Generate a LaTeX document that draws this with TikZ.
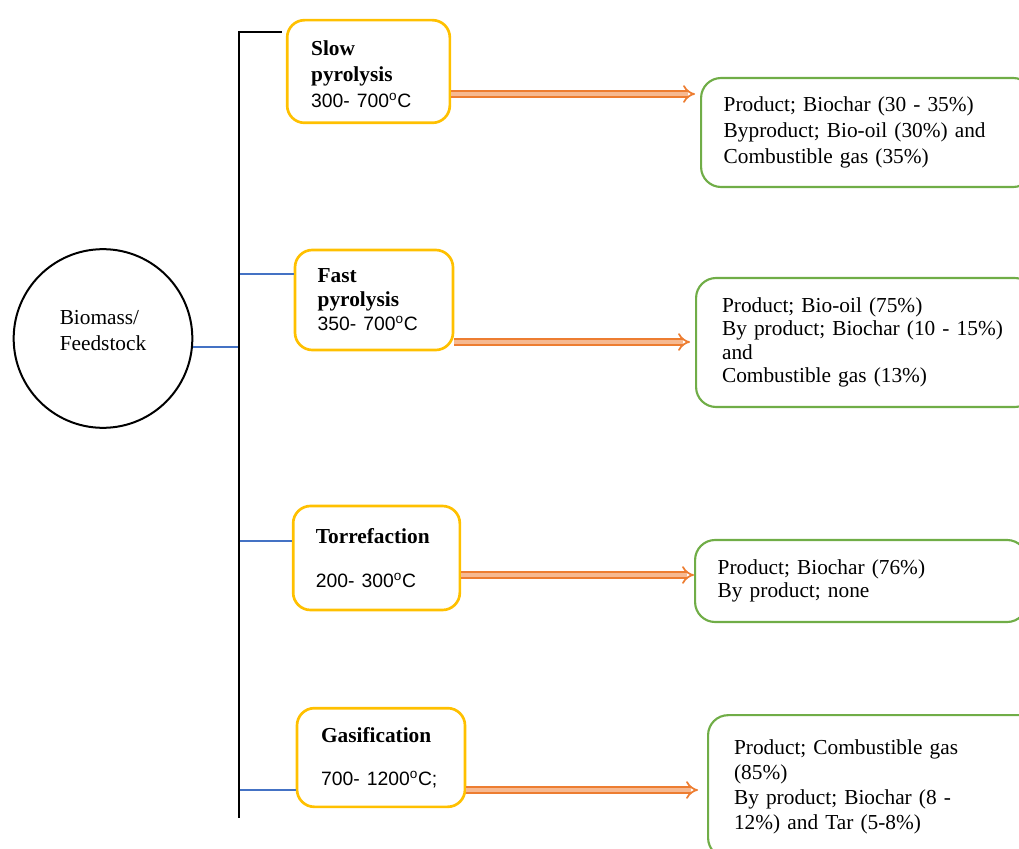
\documentclass[tikz,border=0pt]{standalone}
\usepackage{fontspec}
\setmainfont{Liberation Serif}
\newfontfamily\tempfont{Liberation Sans}
\usetikzlibrary{arrows.meta, positioning, calc}
\definecolor{stageYellow}{RGB}{255,192,0}
\definecolor{resultGreen}{RGB}{112,173,71}
\definecolor{flowOrange}{RGB}{237,125,49}
\definecolor{flowFill}{RGB}{246,185,145}
\definecolor{branchBlue}{RGB}{68,114,196}
\newcommand{\degC}{\textsuperscript{o}C}
\newcommand{\templine}[1]{{\tempfont\fontsize{14.5}{19.5}\selectfont #1}}

\begin{document}
\begin{tikzpicture}[x=0.75pt, y=-0.75pt,
    stage/.style={draw=stageYellow, line width=2pt, rounded corners=13pt, align=left, inner ysep=0pt, font=\fontsize{16}{19.5}\selectfont},
    result/.style={draw=resultGreen, line width=1.6pt, rounded corners=15pt, align=left, anchor=west, text width=215pt, inner ysep=0pt, font=\fontsize{16}{19.5}\selectfont},
    flow/.style={draw=flowOrange, line width=1.3pt, double=flowFill, double distance=3.2pt, -{Implies}},
    branch/.style={draw=branchBlue, line width=0.8pt},
    spine/.style={draw=black, line width=2pt}]
    \useasboundingbox (0,0) rectangle (1019,848);
    \node[circle, draw, line width=1.5pt, minimum size=134pt,
      label={[align=left, font=\fontsize{16}{19.5}\selectfont, yshift=5.6pt]center:Biomass/\\Feedstock}] (biomass) at (103,338.5) {};
    \node[stage, text width=86pt, text height=15pt, inner xsep=18pt, minimum height=77pt] (slow) at (368.5,71.5) {\textbf{Slow}\\\textbf{pyrolysis}\\\templine{300- 700\degC}};
    \node[stage, font=\fontsize{16}{18}\selectfont, text width=84.5pt, inner xsep=17pt, minimum height=75pt] (fast) at (374,300) {\textbf{Fast}\\\textbf{pyrolysis}\\\templine{350- 700\degC}};
    \node[stage, text width=91pt, inner xsep=17pt, minimum height=78pt] (torref) at (376.5,558) {\textbf{Torrefaction}\\[13.5pt]\templine{200- 300\degC}};
    \node[stage, text width=90pt, inner xsep=18pt, minimum height=74pt] (gasif) at (381,757.5) {\textbf{Gasification}\\[12.5pt]\templine{700- 1200\degC;}};
    \node[result, inner xsep=17pt, minimum height=81.75pt] (res1) at (700,132.5) {Product; Biochar (30 - 35\%)\\Byproduct; Bio-oil (30\%) and\\Combustible gas (35\%)};
    \node[result, font=\fontsize{16}{17.6}\selectfont, inner xsep=19.5pt, minimum height=96.75pt] (res2) at (695,342.5) {Product; Bio-oil (75\%)\\By product; Biochar (10 - 15\%)\\and\\Combustible gas (13\%)};
    \node[result, font=\fontsize{16}{17.3}\selectfont, inner xsep=17pt, minimum height=61.5pt] (res3) at (694,581) {Product; Biochar (76\%)\\By product; none};
    \node[result, font=\fontsize{16}{18.75}\selectfont, inner xsep=19.5pt, minimum height=107pt] (res4) at (707,786.5) {Product; Combustible gas\\(85\%)\\By product; Biochar (8 -\\12\%) and Tar (5-8\%)};
    \coordinate (spinetop) at (239,32);
    \coordinate (spinebot) at (239,818);
    \draw[branch] ($(biomass.east)+(0,8.5)$) coordinate (b0) -- (b0 -| spinetop);
    \draw[branch] ($(fast.west)+(0,-26)$) coordinate (b2) -- (b2 -| spinetop);
    \draw[branch] ($(torref.west)+(0,-17)$) coordinate (b3) -- (b3 -| spinetop);
    \draw[branch] ($(gasif.west)+(0,32.5)$) coordinate (b4) -- (b4 -| spinetop);
    \draw[spine] ([xshift=-3pt]slow.west |- spinetop) -- (spinetop) -- (spinebot);
    \draw[flow, shorten >=3.75pt] ($(slow.east)+(0,22.5)$) coordinate (a1) -- (a1 -| res1.west);
    \draw[flow, shorten >=3.75pt] ($(fast.east)+(0,42)$) coordinate (a2) -- (a2 -| res2.west);
    \draw[flow] ($(torref.east)+(0,17)$) coordinate (a3) -- (a3 -| res3.west);
    \draw[flow, shorten >=6.75pt] ($(gasif.east)+(0,32.5)$) coordinate (a4) -- (a4 -| res4.west);
\end{tikzpicture}
\end{document}
